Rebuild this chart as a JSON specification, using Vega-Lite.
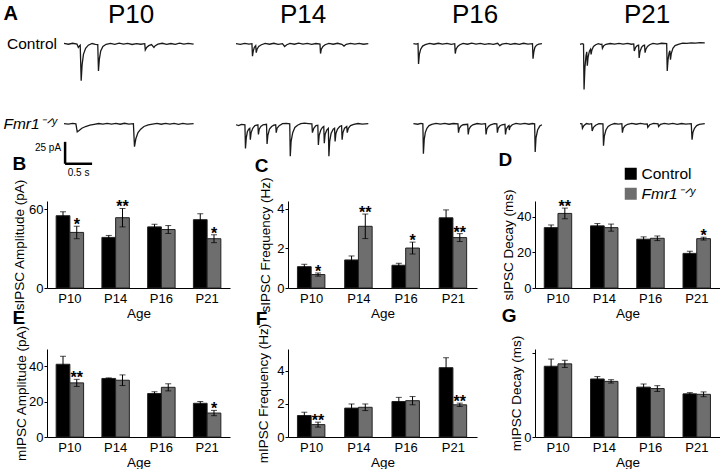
{
"$schema":"https://vega.github.io/schema/vega-lite/v6.json",
"padding":{"left":3,"top":2,"right":0,"bottom":0},
"background":"white",
"config":{
 "font":"Liberation Sans",
 "view":{"stroke":null},
 "axis":{"domainColor":"#000","tickColor":"#000","labelColor":"#000","titleColor":"#000","labelFontSize":13,"titleFontSize":13.5,"titleFontWeight":"normal","grid":false,"labelFont":"Liberation Sans","titleFont":"Liberation Sans"},
 "axisY":{"tickSize":3,"labelPadding":1,"labelOverlap":false},
 "title":{"anchor":"start","frame":"bounds","fontSize":19,"fontWeight":"bold","font":"Liberation Sans","baseline":"alphabetic","color":"#000"}
},
"datasets":{
"tr":[
{"age":"P10","genotype":"Control","t":0,"pA":0.5},{"age":"P10","genotype":"Control","t":0.08,"pA":-0.4},{"age":"P10","genotype":"Control","t":0.16,"pA":0.7},{"age":"P10","genotype":"Control","t":0.24,"pA":-0.2},{"age":"P10","genotype":"Control","t":0.265,"pA":-4},{"age":"P10","genotype":"Control","t":0.29,"pA":-2},{"age":"P10","genotype":"Control","t":0.30,"pA":-1.5},{"age":"P10","genotype":"Control","t":0.318,"pA":-42},{"age":"P10","genotype":"Control","t":0.335,"pA":-24},{"age":"P10","genotype":"Control","t":0.36,"pA":-12},{"age":"P10","genotype":"Control","t":0.40,"pA":-5},{"age":"P10","genotype":"Control","t":0.45,"pA":-1.5},{"age":"P10","genotype":"Control","t":0.52,"pA":0.4},{"age":"P10","genotype":"Control","t":0.58,"pA":-0.6},{"age":"P10","genotype":"Control","t":0.625,"pA":-0.8},{"age":"P10","genotype":"Control","t":0.638,"pA":-31},{"age":"P10","genotype":"Control","t":0.655,"pA":-17},{"age":"P10","genotype":"Control","t":0.68,"pA":-8},{"age":"P10","genotype":"Control","t":0.72,"pA":-3},{"age":"P10","genotype":"Control","t":0.78,"pA":-0.5},{"age":"P10","genotype":"Control","t":0.86,"pA":0.6},{"age":"P10","genotype":"Control","t":0.94,"pA":-0.5},{"age":"P10","genotype":"Control","t":1.02,"pA":0.8},{"age":"P10","genotype":"Control","t":1.10,"pA":-0.3},{"age":"P10","genotype":"Control","t":1.18,"pA":0.5},{"age":"P10","genotype":"Control","t":1.26,"pA":-0.7},{"age":"P10","genotype":"Control","t":1.34,"pA":0.3},{"age":"P10","genotype":"Control","t":1.42,"pA":-0.4},{"age":"P10","genotype":"Control","t":1.495,"pA":0.2},{"age":"P10","genotype":"Control","t":1.505,"pA":-7},{"age":"P10","genotype":"Control","t":1.53,"pA":-4},{"age":"P10","genotype":"Control","t":1.57,"pA":-2},{"age":"P10","genotype":"Control","t":1.62,"pA":-0.8},{"age":"P10","genotype":"Control","t":1.665,"pA":-4},{"age":"P10","genotype":"Control","t":1.69,"pA":-2},{"age":"P10","genotype":"Control","t":1.74,"pA":-0.3},{"age":"P10","genotype":"Control","t":1.82,"pA":0.7},{"age":"P10","genotype":"Control","t":1.90,"pA":-0.5},{"age":"P10","genotype":"Control","t":1.98,"pA":0.4},{"age":"P10","genotype":"Control","t":2.06,"pA":-0.6},{"age":"P10","genotype":"Control","t":2.14,"pA":0.8},{"age":"P10","genotype":"Control","t":2.22,"pA":-0.2},{"age":"P10","genotype":"Control","t":2.30,"pA":0.5},{"age":"P10","genotype":"Control","t":2.40,"pA":-0.3},

{"age":"P14","genotype":"Control","t":0,"pA":0.3},{"age":"P14","genotype":"Control","t":0.08,"pA":-0.5},{"age":"P14","genotype":"Control","t":0.16,"pA":0.6},{"age":"P14","genotype":"Control","t":0.24,"pA":-0.3},{"age":"P14","genotype":"Control","t":0.295,"pA":0.2},{"age":"P14","genotype":"Control","t":0.305,"pA":-14},{"age":"P14","genotype":"Control","t":0.32,"pA":-8},{"age":"P14","genotype":"Control","t":0.34,"pA":-4},{"age":"P14","genotype":"Control","t":0.365,"pA":-2},{"age":"P14","genotype":"Control","t":0.375,"pA":-10},{"age":"P14","genotype":"Control","t":0.39,"pA":-6},{"age":"P14","genotype":"Control","t":0.42,"pA":-3},{"age":"P14","genotype":"Control","t":0.47,"pA":-1},{"age":"P14","genotype":"Control","t":0.54,"pA":0.5},{"age":"P14","genotype":"Control","t":0.62,"pA":-0.4},{"age":"P14","genotype":"Control","t":0.70,"pA":0.7},{"age":"P14","genotype":"Control","t":0.78,"pA":-0.5},{"age":"P14","genotype":"Control","t":0.86,"pA":0.3},{"age":"P14","genotype":"Control","t":0.90,"pA":-3},{"age":"P14","genotype":"Control","t":0.94,"pA":-1},{"age":"P14","genotype":"Control","t":1.0,"pA":0.6},{"age":"P14","genotype":"Control","t":1.08,"pA":-0.4},{"age":"P14","genotype":"Control","t":1.16,"pA":0.8},{"age":"P14","genotype":"Control","t":1.24,"pA":-0.3},{"age":"P14","genotype":"Control","t":1.32,"pA":0.5},{"age":"P14","genotype":"Control","t":1.40,"pA":-0.6},{"age":"P14","genotype":"Control","t":1.48,"pA":0.4},{"age":"P14","genotype":"Control","t":1.555,"pA":-0.2},{"age":"P14","genotype":"Control","t":1.565,"pA":-11},{"age":"P14","genotype":"Control","t":1.58,"pA":-6},{"age":"P14","genotype":"Control","t":1.61,"pA":-3},{"age":"P14","genotype":"Control","t":1.65,"pA":-1},{"age":"P14","genotype":"Control","t":1.72,"pA":0.5},{"age":"P14","genotype":"Control","t":1.80,"pA":-0.4},{"age":"P14","genotype":"Control","t":1.88,"pA":0.7},{"age":"P14","genotype":"Control","t":1.96,"pA":-0.5},{"age":"P14","genotype":"Control","t":2.0,"pA":-2.5},{"age":"P14","genotype":"Control","t":2.04,"pA":-0.5},{"age":"P14","genotype":"Control","t":2.12,"pA":0.6},{"age":"P14","genotype":"Control","t":2.20,"pA":-0.3},{"age":"P14","genotype":"Control","t":2.28,"pA":0.5},{"age":"P14","genotype":"Control","t":2.36,"pA":-0.4},{"age":"P14","genotype":"Control","t":2.45,"pA":0.3},

{"age":"P16","genotype":"Control","t":0.10,"pA":0.4},{"age":"P16","genotype":"Control","t":0.15,"pA":-0.3},{"age":"P16","genotype":"Control","t":0.185,"pA":0.3},{"age":"P16","genotype":"Control","t":0.195,"pA":-23},{"age":"P16","genotype":"Control","t":0.21,"pA":-12},{"age":"P16","genotype":"Control","t":0.235,"pA":-6},{"age":"P16","genotype":"Control","t":0.27,"pA":-2.5},{"age":"P16","genotype":"Control","t":0.32,"pA":-0.8},{"age":"P16","genotype":"Control","t":0.40,"pA":0.5},{"age":"P16","genotype":"Control","t":0.48,"pA":-0.4},{"age":"P16","genotype":"Control","t":0.56,"pA":0.7},{"age":"P16","genotype":"Control","t":0.64,"pA":-0.3},{"age":"P16","genotype":"Control","t":0.72,"pA":0.5},{"age":"P16","genotype":"Control","t":0.80,"pA":-0.5},{"age":"P16","genotype":"Control","t":0.865,"pA":0.2},{"age":"P16","genotype":"Control","t":0.875,"pA":-11},{"age":"P16","genotype":"Control","t":0.89,"pA":-6},{"age":"P16","genotype":"Control","t":0.92,"pA":-3},{"age":"P16","genotype":"Control","t":0.96,"pA":-1},{"age":"P16","genotype":"Control","t":1.02,"pA":0.6},{"age":"P16","genotype":"Control","t":1.10,"pA":-0.4},{"age":"P16","genotype":"Control","t":1.18,"pA":0.8},{"age":"P16","genotype":"Control","t":1.26,"pA":-0.2},{"age":"P16","genotype":"Control","t":1.34,"pA":0.5},{"age":"P16","genotype":"Control","t":1.42,"pA":-0.6},{"age":"P16","genotype":"Control","t":1.50,"pA":0.3},{"age":"P16","genotype":"Control","t":1.58,"pA":-0.5},{"age":"P16","genotype":"Control","t":1.66,"pA":0.7},{"age":"P16","genotype":"Control","t":1.70,"pA":-2},{"age":"P16","genotype":"Control","t":1.74,"pA":-0.3},{"age":"P16","genotype":"Control","t":1.82,"pA":0.6},{"age":"P16","genotype":"Control","t":1.90,"pA":-0.5},{"age":"P16","genotype":"Control","t":1.98,"pA":0.4},{"age":"P16","genotype":"Control","t":2.06,"pA":-0.6},{"age":"P16","genotype":"Control","t":2.14,"pA":0.7},{"age":"P16","genotype":"Control","t":2.22,"pA":-0.3},{"age":"P16","genotype":"Control","t":2.305,"pA":0.2},{"age":"P16","genotype":"Control","t":2.315,"pA":-17},{"age":"P16","genotype":"Control","t":2.33,"pA":-9},{"age":"P16","genotype":"Control","t":2.35,"pA":-4},{"age":"P16","genotype":"Control","t":2.38,"pA":-1.5},{"age":"P16","genotype":"Control","t":2.42,"pA":-0.3},{"age":"P16","genotype":"Control","t":2.48,"pA":0.3},

{"age":"P21","genotype":"Control","t":0,"pA":-0.5},{"age":"P21","genotype":"Control","t":0.04,"pA":0.2},{"age":"P21","genotype":"Control","t":0.065,"pA":-0.3},{"age":"P21","genotype":"Control","t":0.075,"pA":-52},{"age":"P21","genotype":"Control","t":0.09,"pA":-28},{"age":"P21","genotype":"Control","t":0.11,"pA":-14},{"age":"P21","genotype":"Control","t":0.125,"pA":-9},{"age":"P21","genotype":"Control","t":0.135,"pA":-25},{"age":"P21","genotype":"Control","t":0.15,"pA":-15},{"age":"P21","genotype":"Control","t":0.175,"pA":-8},{"age":"P21","genotype":"Control","t":0.195,"pA":-6},{"age":"P21","genotype":"Control","t":0.205,"pA":-12},{"age":"P21","genotype":"Control","t":0.22,"pA":-7},{"age":"P21","genotype":"Control","t":0.25,"pA":-3},{"age":"P21","genotype":"Control","t":0.29,"pA":-1},{"age":"P21","genotype":"Control","t":0.34,"pA":0.2},{"age":"P21","genotype":"Control","t":0.38,"pA":-0.5},{"age":"P21","genotype":"Control","t":0.405,"pA":-0.3},{"age":"P21","genotype":"Control","t":0.415,"pA":-5},{"age":"P21","genotype":"Control","t":0.44,"pA":-2},{"age":"P21","genotype":"Control","t":0.48,"pA":-0.5},{"age":"P21","genotype":"Control","t":0.56,"pA":0.4},{"age":"P21","genotype":"Control","t":0.64,"pA":-0.3},{"age":"P21","genotype":"Control","t":0.72,"pA":0.6},{"age":"P21","genotype":"Control","t":0.80,"pA":-0.2},{"age":"P21","genotype":"Control","t":0.88,"pA":0.5},{"age":"P21","genotype":"Control","t":0.95,"pA":-0.4},{"age":"P21","genotype":"Control","t":0.995,"pA":0},{"age":"P21","genotype":"Control","t":1.005,"pA":-8},{"age":"P21","genotype":"Control","t":1.03,"pA":-4},{"age":"P21","genotype":"Control","t":1.06,"pA":-2},{"age":"P21","genotype":"Control","t":1.085,"pA":-1.5},{"age":"P21","genotype":"Control","t":1.095,"pA":-16},{"age":"P21","genotype":"Control","t":1.11,"pA":-9},{"age":"P21","genotype":"Control","t":1.14,"pA":-4},{"age":"P21","genotype":"Control","t":1.17,"pA":-2},{"age":"P21","genotype":"Control","t":1.195,"pA":-1.5},{"age":"P21","genotype":"Control","t":1.205,"pA":-10},{"age":"P21","genotype":"Control","t":1.22,"pA":-6},{"age":"P21","genotype":"Control","t":1.25,"pA":-3},{"age":"P21","genotype":"Control","t":1.29,"pA":-1},{"age":"P21","genotype":"Control","t":1.35,"pA":0.5},{"age":"P21","genotype":"Control","t":1.43,"pA":-0.3},{"age":"P21","genotype":"Control","t":1.51,"pA":0.7},{"age":"P21","genotype":"Control","t":1.605,"pA":0.3},{"age":"P21","genotype":"Control","t":1.615,"pA":-31},{"age":"P21","genotype":"Control","t":1.63,"pA":-18},{"age":"P21","genotype":"Control","t":1.65,"pA":-10},{"age":"P21","genotype":"Control","t":1.665,"pA":-8},{"age":"P21","genotype":"Control","t":1.675,"pA":-18},{"age":"P21","genotype":"Control","t":1.69,"pA":-11},{"age":"P21","genotype":"Control","t":1.72,"pA":-5},{"age":"P21","genotype":"Control","t":1.76,"pA":-2},{"age":"P21","genotype":"Control","t":1.82,"pA":-0.5},{"age":"P21","genotype":"Control","t":1.90,"pA":0.8},{"age":"P21","genotype":"Control","t":1.98,"pA":0.5},{"age":"P21","genotype":"Control","t":2.06,"pA":1.2},{"age":"P21","genotype":"Control","t":2.14,"pA":0.8},{"age":"P21","genotype":"Control","t":2.22,"pA":1.4},{"age":"P21","genotype":"Control","t":2.31,"pA":1.1},

{"age":"P10","genotype":"Fmr1","t":0,"pA":0.4},{"age":"P10","genotype":"Fmr1","t":0.08,"pA":-0.3},{"age":"P10","genotype":"Fmr1","t":0.16,"pA":0.5},{"age":"P10","genotype":"Fmr1","t":0.22,"pA":0},{"age":"P10","genotype":"Fmr1","t":0.245,"pA":-9},{"age":"P10","genotype":"Fmr1","t":0.28,"pA":-7.5},{"age":"P10","genotype":"Fmr1","t":0.33,"pA":-5},{"age":"P10","genotype":"Fmr1","t":0.40,"pA":-3},{"age":"P10","genotype":"Fmr1","t":0.48,"pA":-1.5},{"age":"P10","genotype":"Fmr1","t":0.56,"pA":-0.5},{"age":"P10","genotype":"Fmr1","t":0.64,"pA":0.4},{"age":"P10","genotype":"Fmr1","t":0.72,"pA":-0.3},{"age":"P10","genotype":"Fmr1","t":0.80,"pA":0.6},{"age":"P10","genotype":"Fmr1","t":0.88,"pA":-0.2},{"age":"P10","genotype":"Fmr1","t":0.96,"pA":0.5},{"age":"P10","genotype":"Fmr1","t":1.04,"pA":-0.4},{"age":"P10","genotype":"Fmr1","t":1.12,"pA":0.7},{"age":"P10","genotype":"Fmr1","t":1.20,"pA":-0.3},{"age":"P10","genotype":"Fmr1","t":1.285,"pA":0.2},{"age":"P10","genotype":"Fmr1","t":1.305,"pA":-26},{"age":"P10","genotype":"Fmr1","t":1.33,"pA":-17},{"age":"P10","genotype":"Fmr1","t":1.37,"pA":-10},{"age":"P10","genotype":"Fmr1","t":1.42,"pA":-6},{"age":"P10","genotype":"Fmr1","t":1.48,"pA":-3},{"age":"P10","genotype":"Fmr1","t":1.56,"pA":-1.2},{"age":"P10","genotype":"Fmr1","t":1.64,"pA":-0.2},{"age":"P10","genotype":"Fmr1","t":1.72,"pA":0.5},{"age":"P10","genotype":"Fmr1","t":1.80,"pA":-0.4},{"age":"P10","genotype":"Fmr1","t":1.88,"pA":0.6},{"age":"P10","genotype":"Fmr1","t":1.96,"pA":-0.3},{"age":"P10","genotype":"Fmr1","t":2.04,"pA":0.5},{"age":"P10","genotype":"Fmr1","t":2.12,"pA":-0.5},{"age":"P10","genotype":"Fmr1","t":2.20,"pA":0.6},{"age":"P10","genotype":"Fmr1","t":2.28,"pA":-0.2},{"age":"P10","genotype":"Fmr1","t":2.40,"pA":0.3},

{"age":"P14","genotype":"Fmr1","t":0,"pA":-1},{"age":"P14","genotype":"Fmr1","t":0.05,"pA":-2},{"age":"P14","genotype":"Fmr1","t":0.10,"pA":-0.5},{"age":"P14","genotype":"Fmr1","t":0.165,"pA":-1},{"age":"P14","genotype":"Fmr1","t":0.175,"pA":-28},{"age":"P14","genotype":"Fmr1","t":0.19,"pA":-16},{"age":"P14","genotype":"Fmr1","t":0.21,"pA":-9},{"age":"P14","genotype":"Fmr1","t":0.235,"pA":-6},{"age":"P14","genotype":"Fmr1","t":0.255,"pA":-5},{"age":"P14","genotype":"Fmr1","t":0.265,"pA":-18},{"age":"P14","genotype":"Fmr1","t":0.28,"pA":-10},{"age":"P14","genotype":"Fmr1","t":0.31,"pA":-5},{"age":"P14","genotype":"Fmr1","t":0.35,"pA":-2},{"age":"P14","genotype":"Fmr1","t":0.405,"pA":-1},{"age":"P14","genotype":"Fmr1","t":0.415,"pA":-12},{"age":"P14","genotype":"Fmr1","t":0.43,"pA":-6},{"age":"P14","genotype":"Fmr1","t":0.46,"pA":-3},{"age":"P14","genotype":"Fmr1","t":0.50,"pA":-1},{"age":"P14","genotype":"Fmr1","t":0.565,"pA":-0.5},{"age":"P14","genotype":"Fmr1","t":0.575,"pA":-23},{"age":"P14","genotype":"Fmr1","t":0.59,"pA":-13},{"age":"P14","genotype":"Fmr1","t":0.62,"pA":-6},{"age":"P14","genotype":"Fmr1","t":0.66,"pA":-3},{"age":"P14","genotype":"Fmr1","t":0.70,"pA":-1.5},{"age":"P14","genotype":"Fmr1","t":0.735,"pA":-1},{"age":"P14","genotype":"Fmr1","t":0.745,"pA":-10},{"age":"P14","genotype":"Fmr1","t":0.76,"pA":-5},{"age":"P14","genotype":"Fmr1","t":0.80,"pA":-2},{"age":"P14","genotype":"Fmr1","t":0.86,"pA":0.3},{"age":"P14","genotype":"Fmr1","t":0.93,"pA":0.5},{"age":"P14","genotype":"Fmr1","t":0.995,"pA":0},{"age":"P14","genotype":"Fmr1","t":1.005,"pA":-37},{"age":"P14","genotype":"Fmr1","t":1.02,"pA":-20},{"age":"P14","genotype":"Fmr1","t":1.05,"pA":-10},{"age":"P14","genotype":"Fmr1","t":1.09,"pA":-4},{"age":"P14","genotype":"Fmr1","t":1.14,"pA":-1.5},{"age":"P14","genotype":"Fmr1","t":1.20,"pA":0.2},{"age":"P14","genotype":"Fmr1","t":1.27,"pA":0.8},{"age":"P14","genotype":"Fmr1","t":1.34,"pA":0.4},{"age":"P14","genotype":"Fmr1","t":1.405,"pA":0},{"age":"P14","genotype":"Fmr1","t":1.415,"pA":-10},{"age":"P14","genotype":"Fmr1","t":1.44,"pA":-5},{"age":"P14","genotype":"Fmr1","t":1.48,"pA":-2},{"age":"P14","genotype":"Fmr1","t":1.515,"pA":-1.5},{"age":"P14","genotype":"Fmr1","t":1.525,"pA":-24},{"age":"P14","genotype":"Fmr1","t":1.54,"pA":-13},{"age":"P14","genotype":"Fmr1","t":1.57,"pA":-7},{"age":"P14","genotype":"Fmr1","t":1.60,"pA":-4},{"age":"P14","genotype":"Fmr1","t":1.625,"pA":-3},{"age":"P14","genotype":"Fmr1","t":1.635,"pA":-22},{"age":"P14","genotype":"Fmr1","t":1.65,"pA":-12},{"age":"P14","genotype":"Fmr1","t":1.68,"pA":-7},{"age":"P14","genotype":"Fmr1","t":1.71,"pA":-5},{"age":"P14","genotype":"Fmr1","t":1.72,"pA":-37},{"age":"P14","genotype":"Fmr1","t":1.735,"pA":-20},{"age":"P14","genotype":"Fmr1","t":1.76,"pA":-11},{"age":"P14","genotype":"Fmr1","t":1.80,"pA":-6},{"age":"P14","genotype":"Fmr1","t":1.825,"pA":-5},{"age":"P14","genotype":"Fmr1","t":1.835,"pA":-20},{"age":"P14","genotype":"Fmr1","t":1.85,"pA":-11},{"age":"P14","genotype":"Fmr1","t":1.88,"pA":-6},{"age":"P14","genotype":"Fmr1","t":1.92,"pA":-3},{"age":"P14","genotype":"Fmr1","t":1.955,"pA":-2},{"age":"P14","genotype":"Fmr1","t":1.965,"pA":-18},{"age":"P14","genotype":"Fmr1","t":1.98,"pA":-10},{"age":"P14","genotype":"Fmr1","t":2.01,"pA":-5},{"age":"P14","genotype":"Fmr1","t":2.05,"pA":-3},{"age":"P14","genotype":"Fmr1","t":2.06,"pA":-10},{"age":"P14","genotype":"Fmr1","t":2.08,"pA":-5},{"age":"P14","genotype":"Fmr1","t":2.12,"pA":-2},{"age":"P14","genotype":"Fmr1","t":2.18,"pA":-0.5},{"age":"P14","genotype":"Fmr1","t":2.26,"pA":0.4},{"age":"P14","genotype":"Fmr1","t":2.34,"pA":-0.3},{"age":"P14","genotype":"Fmr1","t":2.45,"pA":0.3},

{"age":"P16","genotype":"Fmr1","t":0.10,"pA":0.3},{"age":"P16","genotype":"Fmr1","t":0.18,"pA":-0.4},{"age":"P16","genotype":"Fmr1","t":0.24,"pA":0.5},{"age":"P16","genotype":"Fmr1","t":0.275,"pA":0},{"age":"P16","genotype":"Fmr1","t":0.285,"pA":-34},{"age":"P16","genotype":"Fmr1","t":0.30,"pA":-18},{"age":"P16","genotype":"Fmr1","t":0.32,"pA":-10},{"age":"P16","genotype":"Fmr1","t":0.35,"pA":-5},{"age":"P16","genotype":"Fmr1","t":0.39,"pA":-2},{"age":"P16","genotype":"Fmr1","t":0.44,"pA":-0.5},{"age":"P16","genotype":"Fmr1","t":0.52,"pA":0.5},{"age":"P16","genotype":"Fmr1","t":0.60,"pA":-0.3},{"age":"P16","genotype":"Fmr1","t":0.68,"pA":0.6},{"age":"P16","genotype":"Fmr1","t":0.76,"pA":-0.4},{"age":"P16","genotype":"Fmr1","t":0.84,"pA":0.4},{"age":"P16","genotype":"Fmr1","t":0.925,"pA":0},{"age":"P16","genotype":"Fmr1","t":0.935,"pA":-10},{"age":"P16","genotype":"Fmr1","t":0.95,"pA":-5},{"age":"P16","genotype":"Fmr1","t":0.98,"pA":-2.5},{"age":"P16","genotype":"Fmr1","t":1.02,"pA":-1},{"age":"P16","genotype":"Fmr1","t":1.105,"pA":-0.5},{"age":"P16","genotype":"Fmr1","t":1.115,"pA":-12},{"age":"P16","genotype":"Fmr1","t":1.13,"pA":-6},{"age":"P16","genotype":"Fmr1","t":1.16,"pA":-3},{"age":"P16","genotype":"Fmr1","t":1.20,"pA":-1},{"age":"P16","genotype":"Fmr1","t":1.28,"pA":0.4},{"age":"P16","genotype":"Fmr1","t":1.36,"pA":-0.3},{"age":"P16","genotype":"Fmr1","t":1.435,"pA":0.2},{"age":"P16","genotype":"Fmr1","t":1.445,"pA":-12},{"age":"P16","genotype":"Fmr1","t":1.46,"pA":-6},{"age":"P16","genotype":"Fmr1","t":1.49,"pA":-3},{"age":"P16","genotype":"Fmr1","t":1.53,"pA":-1},{"age":"P16","genotype":"Fmr1","t":1.60,"pA":0.3},{"age":"P16","genotype":"Fmr1","t":1.645,"pA":0},{"age":"P16","genotype":"Fmr1","t":1.655,"pA":-10},{"age":"P16","genotype":"Fmr1","t":1.67,"pA":-5},{"age":"P16","genotype":"Fmr1","t":1.70,"pA":-2.5},{"age":"P16","genotype":"Fmr1","t":1.74,"pA":-1},{"age":"P16","genotype":"Fmr1","t":1.795,"pA":-0.5},{"age":"P16","genotype":"Fmr1","t":1.805,"pA":-12},{"age":"P16","genotype":"Fmr1","t":1.82,"pA":-6},{"age":"P16","genotype":"Fmr1","t":1.85,"pA":-3},{"age":"P16","genotype":"Fmr1","t":1.87,"pA":-2},{"age":"P16","genotype":"Fmr1","t":1.875,"pA":-7},{"age":"P16","genotype":"Fmr1","t":1.89,"pA":-3.5},{"age":"P16","genotype":"Fmr1","t":1.93,"pA":-1},{"age":"P16","genotype":"Fmr1","t":2.00,"pA":0.5},{"age":"P16","genotype":"Fmr1","t":2.08,"pA":-0.3},{"age":"P16","genotype":"Fmr1","t":2.16,"pA":0.6},{"age":"P16","genotype":"Fmr1","t":2.24,"pA":-0.4},{"age":"P16","genotype":"Fmr1","t":2.30,"pA":0.4},{"age":"P16","genotype":"Fmr1","t":2.345,"pA":0},{"age":"P16","genotype":"Fmr1","t":2.355,"pA":-32},{"age":"P16","genotype":"Fmr1","t":2.37,"pA":-16},{"age":"P16","genotype":"Fmr1","t":2.40,"pA":-7},{"age":"P16","genotype":"Fmr1","t":2.44,"pA":-2.5},{"age":"P16","genotype":"Fmr1","t":2.48,"pA":-1},

{"age":"P21","genotype":"Fmr1","t":0,"pA":0.3},{"age":"P21","genotype":"Fmr1","t":0.035,"pA":0},{"age":"P21","genotype":"Fmr1","t":0.045,"pA":-5},{"age":"P21","genotype":"Fmr1","t":0.07,"pA":-2},{"age":"P21","genotype":"Fmr1","t":0.12,"pA":0.4},{"age":"P21","genotype":"Fmr1","t":0.17,"pA":-0.3},{"age":"P21","genotype":"Fmr1","t":0.215,"pA":0.2},{"age":"P21","genotype":"Fmr1","t":0.225,"pA":-8},{"age":"P21","genotype":"Fmr1","t":0.25,"pA":-4},{"age":"P21","genotype":"Fmr1","t":0.29,"pA":-1.5},{"age":"P21","genotype":"Fmr1","t":0.35,"pA":0.3},{"age":"P21","genotype":"Fmr1","t":0.425,"pA":0},{"age":"P21","genotype":"Fmr1","t":0.435,"pA":-25},{"age":"P21","genotype":"Fmr1","t":0.45,"pA":-14},{"age":"P21","genotype":"Fmr1","t":0.48,"pA":-7},{"age":"P21","genotype":"Fmr1","t":0.52,"pA":-3},{"age":"P21","genotype":"Fmr1","t":0.57,"pA":-1},{"age":"P21","genotype":"Fmr1","t":0.64,"pA":0.4},{"age":"P21","genotype":"Fmr1","t":0.71,"pA":-0.3},{"age":"P21","genotype":"Fmr1","t":0.775,"pA":0.2},{"age":"P21","genotype":"Fmr1","t":0.785,"pA":-10},{"age":"P21","genotype":"Fmr1","t":0.80,"pA":-5},{"age":"P21","genotype":"Fmr1","t":0.83,"pA":-2.5},{"age":"P21","genotype":"Fmr1","t":0.88,"pA":-0.5},{"age":"P21","genotype":"Fmr1","t":0.96,"pA":0.6},{"age":"P21","genotype":"Fmr1","t":1.04,"pA":-0.4},{"age":"P21","genotype":"Fmr1","t":1.12,"pA":0.5},{"age":"P21","genotype":"Fmr1","t":1.20,"pA":-0.3},{"age":"P21","genotype":"Fmr1","t":1.245,"pA":0},{"age":"P21","genotype":"Fmr1","t":1.255,"pA":-4},{"age":"P21","genotype":"Fmr1","t":1.29,"pA":-1},{"age":"P21","genotype":"Fmr1","t":1.36,"pA":0.5},{"age":"P21","genotype":"Fmr1","t":1.445,"pA":0},{"age":"P21","genotype":"Fmr1","t":1.455,"pA":-3},{"age":"P21","genotype":"Fmr1","t":1.49,"pA":-0.5},{"age":"P21","genotype":"Fmr1","t":1.56,"pA":0.6},{"age":"P21","genotype":"Fmr1","t":1.64,"pA":-0.3},{"age":"P21","genotype":"Fmr1","t":1.72,"pA":0.5},{"age":"P21","genotype":"Fmr1","t":1.80,"pA":-0.5},{"age":"P21","genotype":"Fmr1","t":1.88,"pA":0.4},{"age":"P21","genotype":"Fmr1","t":1.96,"pA":-0.2},{"age":"P21","genotype":"Fmr1","t":2.06,"pA":0.3},{"age":"P21","genotype":"Fmr1","t":2.075,"pA":-18},{"age":"P21","genotype":"Fmr1","t":2.09,"pA":-10},{"age":"P21","genotype":"Fmr1","t":2.12,"pA":-5},{"age":"P21","genotype":"Fmr1","t":2.16,"pA":-2},{"age":"P21","genotype":"Fmr1","t":2.21,"pA":-0.5},{"age":"P21","genotype":"Fmr1","t":2.31,"pA":0.4},

{"age":"P10","genotype":"Fmr1","kind":"bar","t":0.02,"pA":-20.5,"t2":0.02,"pA2":-45.5},
{"age":"P10","genotype":"Fmr1","kind":"bar","t":0.02,"pA":-45.5,"t2":0.52,"pA2":-45.5},
{"age":"P10","genotype":"Fmr1","kind":"ylabel","t":0.02,"pA":-27,"label":"25 pA"},
{"age":"P10","genotype":"Fmr1","kind":"xlabel","t":0.27,"pA":-45.5,"label":"0.5 s"},
{"age":"P10","genotype":"Control","kind":"rowlabel","t":0,"pA":0,"label":"Control"},
{"age":"P10","genotype":"Fmr1","kind":"rowlabel","t":0,"pA":0,"label":"Fmr1⁻ᐟʸ"}
],
"bars":[
{"panel":"B","age":"P10","genotype":"Control","mean":55,"lo":52,"hi":58,"sig":""},
{"panel":"B","age":"P10","genotype":"Fmr1","mean":42.3,"lo":37.5,"hi":47,"sig":"*"},
{"panel":"B","age":"P14","genotype":"Control","mean":38.5,"lo":37,"hi":40,"sig":""},
{"panel":"B","age":"P14","genotype":"Fmr1","mean":53.5,"lo":46.5,"hi":60.5,"sig":"**"},
{"panel":"B","age":"P16","genotype":"Control","mean":46.5,"lo":44.5,"hi":48.5,"sig":""},
{"panel":"B","age":"P16","genotype":"Fmr1","mean":44.5,"lo":41.5,"hi":47.5,"sig":""},
{"panel":"B","age":"P21","genotype":"Control","mean":52,"lo":47.5,"hi":56.5,"sig":""},
{"panel":"B","age":"P21","genotype":"Fmr1","mean":37.5,"lo":34.5,"hi":40.5,"sig":"*"},
{"panel":"C","age":"P10","genotype":"Control","mean":1.08,"lo":0.96,"hi":1.2,"sig":""},
{"panel":"C","age":"P10","genotype":"Fmr1","mean":0.68,"lo":0.6,"hi":0.76,"sig":"*"},
{"panel":"C","age":"P14","genotype":"Control","mean":1.42,"lo":1.22,"hi":1.62,"sig":""},
{"panel":"C","age":"P14","genotype":"Fmr1","mean":3.12,"lo":2.5,"hi":3.74,"sig":"**"},
{"panel":"C","age":"P16","genotype":"Control","mean":1.15,"lo":1.05,"hi":1.25,"sig":""},
{"panel":"C","age":"P16","genotype":"Fmr1","mean":2.02,"lo":1.72,"hi":2.32,"sig":"*"},
{"panel":"C","age":"P21","genotype":"Control","mean":3.55,"lo":3.15,"hi":3.95,"sig":""},
{"panel":"C","age":"P21","genotype":"Fmr1","mean":2.55,"lo":2.35,"hi":2.75,"sig":"**"},
{"panel":"D","age":"P10","genotype":"Control","mean":34,"lo":32.5,"hi":35.5,"sig":""},
{"panel":"D","age":"P10","genotype":"Fmr1","mean":42,"lo":39,"hi":45,"sig":"**"},
{"panel":"D","age":"P14","genotype":"Control","mean":35,"lo":33.7,"hi":36.3,"sig":""},
{"panel":"D","age":"P14","genotype":"Fmr1","mean":34,"lo":32,"hi":36,"sig":""},
{"panel":"D","age":"P16","genotype":"Control","mean":27.5,"lo":26.2,"hi":28.8,"sig":""},
{"panel":"D","age":"P16","genotype":"Fmr1","mean":28,"lo":26.7,"hi":29.3,"sig":""},
{"panel":"D","age":"P21","genotype":"Control","mean":19.5,"lo":18.3,"hi":20.7,"sig":""},
{"panel":"D","age":"P21","genotype":"Fmr1","mean":27.8,"lo":27,"hi":28.6,"sig":"*"},
{"panel":"E","age":"P10","genotype":"Control","mean":41,"lo":36.5,"hi":45.5,"sig":""},
{"panel":"E","age":"P10","genotype":"Fmr1","mean":30.5,"lo":28.5,"hi":32.5,"sig":"**"},
{"panel":"E","age":"P14","genotype":"Control","mean":33,"lo":32.7,"hi":33.3,"sig":""},
{"panel":"E","age":"P14","genotype":"Fmr1","mean":32,"lo":29,"hi":35,"sig":""},
{"panel":"E","age":"P16","genotype":"Control","mean":24.5,"lo":23.5,"hi":25.5,"sig":""},
{"panel":"E","age":"P16","genotype":"Fmr1","mean":28,"lo":26,"hi":30,"sig":""},
{"panel":"E","age":"P21","genotype":"Control","mean":19,"lo":18,"hi":20,"sig":""},
{"panel":"E","age":"P21","genotype":"Fmr1","mean":13.5,"lo":12,"hi":15,"sig":"*"},
{"panel":"F","age":"P10","genotype":"Control","mean":1.3,"lo":1.1,"hi":1.5,"sig":""},
{"panel":"F","age":"P10","genotype":"Fmr1","mean":0.75,"lo":0.6,"hi":0.9,"sig":"**"},
{"panel":"F","age":"P14","genotype":"Control","mean":1.75,"lo":1.5,"hi":2.0,"sig":""},
{"panel":"F","age":"P14","genotype":"Fmr1","mean":1.8,"lo":1.6,"hi":2.0,"sig":""},
{"panel":"F","age":"P16","genotype":"Control","mean":2.15,"lo":1.9,"hi":2.4,"sig":""},
{"panel":"F","age":"P16","genotype":"Fmr1","mean":2.2,"lo":1.95,"hi":2.45,"sig":""},
{"panel":"F","age":"P21","genotype":"Control","mean":4.2,"lo":3.6,"hi":4.8,"sig":""},
{"panel":"F","age":"P21","genotype":"Fmr1","mean":1.95,"lo":1.85,"hi":2.05,"sig":"**"},
{"panel":"G","age":"P10","genotype":"Control","mean":29.5,"lo":26.5,"hi":32.5,"sig":""},
{"panel":"G","age":"P10","genotype":"Fmr1","mean":30.5,"lo":29,"hi":32,"sig":""},
{"panel":"G","age":"P14","genotype":"Control","mean":24.2,"lo":23.2,"hi":25.2,"sig":""},
{"panel":"G","age":"P14","genotype":"Fmr1","mean":23.2,"lo":22.5,"hi":23.9,"sig":""},
{"panel":"G","age":"P16","genotype":"Control","mean":20.8,"lo":19.5,"hi":22.1,"sig":""},
{"panel":"G","age":"P16","genotype":"Fmr1","mean":20.2,"lo":19,"hi":21.4,"sig":""},
{"panel":"G","age":"P21","genotype":"Control","mean":18,"lo":17.5,"hi":18.5,"sig":""},
{"panel":"G","age":"P21","genotype":"Fmr1","mean":17.8,"lo":16.8,"hi":18.8,"sig":""}
]
},
"vconcat":[
{
 "data":{"name":"tr"},
 "title":{"text":"A","fontSize":20,"offset":0,"dy":22},
 "facet":{
  "column":{"field":"age","type":"nominal","header":{"title":null,"labelFontSize":26,"labelFont":"Liberation Sans","labelColor":"#000","labelPadding":8}},
  "row":{"field":"genotype","type":"nominal","header":null}
 },
 "spacing":{"row":16,"column":4},
 "spec":{
  "width":168,"height":57,
  "layer":[
   {"transform":[{"filter":"!datum.kind"}],"mark":{"type":"line","color":"#1a1a1a","strokeWidth":1.3},
    "encoding":{"x":{"field":"t","type":"quantitative","scale":{"domain":[-0.315,2.796],"nice":false,"zero":false},"axis":null},"y":{"field":"pA","type":"quantitative","scale":{"domain":[-64,1],"nice":false},"axis":null}}},
   {"transform":[{"filter":"datum.kind == 'bar'"}],"mark":{"type":"rule","color":"#000","strokeWidth":2.5},
    "encoding":{"x":{"field":"t","type":"quantitative"},"x2":{"field":"t2"},"y":{"field":"pA","type":"quantitative"},"y2":{"field":"pA2"}}},
   {"transform":[{"filter":"datum.kind == 'ylabel'"}],"mark":{"type":"text","align":"right","baseline":"middle","dx":-4,"fontSize":10,"color":"#000"},
    "encoding":{"x":{"field":"t","type":"quantitative"},"y":{"field":"pA","type":"quantitative"},"text":{"field":"label"}}},
   {"transform":[{"filter":"datum.kind == 'xlabel'"}],"mark":{"type":"text","align":"center","baseline":"top","dy":4,"fontSize":10,"color":"#000"},
    "encoding":{"x":{"field":"t","type":"quantitative"},"y":{"field":"pA","type":"quantitative"},"text":{"field":"label"}}},
   {"transform":[{"filter":"datum.kind == 'rowlabel' && datum.genotype == 'Control'"}],"mark":{"type":"text","align":"right","baseline":"middle","dx":-7,"fontSize":15.5,"color":"#000"},
    "encoding":{"x":{"field":"t","type":"quantitative"},"y":{"field":"pA","type":"quantitative"},"text":{"field":"label"}}},
   {"transform":[{"filter":"datum.kind == 'rowlabel' && datum.genotype == 'Fmr1'"}],"mark":{"type":"text","align":"right","baseline":"middle","dx":-7,"fontSize":15.5,"fontStyle":"italic","color":"#000"},
    "encoding":{"x":{"field":"t","type":"quantitative"},"y":{"field":"pA","type":"quantitative"},"text":{"field":"label"}}}
  ]
 }
},
{
 "columns":3,
 "spacing":{"row":61,"column":58},
 "bounds":"flush",
 "resolve":{"scale":{"color":"independent"}},
 "concat":[
   {"width":183,"height":87,"title":{"text":"B","dx":0,"dy":-5,"offset":0},
    "data":{"name":"bars"},"transform":[{"filter":"datum.panel == 'B'"}],
    "encoding":{"x":{"field":"age","type":"nominal","scale":{"paddingInner":0.4,"paddingOuter":0.2},"axis":{"title":"Age","labelAngle":0,"ticks":false,"labelPadding":4,"titlePadding":1}},"xOffset":{"field":"genotype","type":"nominal","sort":["Control","Fmr1"]}},
    "layer":[
     {"mark":{"type":"bar","stroke":"#222","strokeWidth":1},"encoding":{"y":{"field":"mean","type":"quantitative","scale":{"domain":[0,66.2],"nice":false},"axis":{"title":"sIPSC Amplitude (pA)","values":[0,20,40,60],"titlePadding":2}},"color":{"field":"genotype","type":"nominal","scale":{"domain":["Control","Fmr1"],"range":["#000000","#6e6e6e"]},"legend":null}}},
     {"mark":{"type":"rule","color":"#000","strokeWidth":1},"encoding":{"y":{"field":"lo","type":"quantitative"},"y2":{"field":"hi"}}},
     {"mark":{"type":"tick","color":"#000","thickness":1,"size":6},"encoding":{"y":{"field":"hi","type":"quantitative"}}},
     {"mark":{"type":"tick","color":"#000","thickness":1,"size":6},"encoding":{"y":{"field":"lo","type":"quantitative"}}},
     {"transform":[{"filter":"datum.sig != ''"}],"mark":{"type":"text","fontSize":16,"fontWeight":"bold","baseline":"alphabetic","dy":4,"color":"#000"},"encoding":{"y":{"field":"hi","type":"quantitative"},"text":{"field":"sig"}}}
    ]},
    {"width":189,"height":87,"title":{"text":"C","dx":-4,"dy":-1,"offset":0},
     "data":{"name":"bars"},"transform":[{"filter":"datum.panel == 'C'"}],
     "encoding":{"x":{"field":"age","type":"nominal","scale":{"paddingInner":0.4,"paddingOuter":0.2},"axis":{"title":"Age","labelAngle":0,"ticks":false,"labelPadding":4,"titlePadding":1}},"xOffset":{"field":"genotype","type":"nominal","sort":["Control","Fmr1"]}},
     "layer":[
      {"mark":{"type":"bar","stroke":"#222","strokeWidth":1},"encoding":{"y":{"field":"mean","type":"quantitative","scale":{"domain":[0,4.4],"nice":false},"axis":{"title":"sIPSC Frequency (Hz)","values":[0,1,2,3,4],"labelExpr":"datum.value % 2 == 0 ? datum.label : ''","titlePadding":4}},"color":{"field":"genotype","type":"nominal","scale":{"domain":["Control","Fmr1"],"range":["#000000","#6e6e6e"]},"legend":null}}},
      {"mark":{"type":"rule","color":"#000","strokeWidth":1},"encoding":{"y":{"field":"lo","type":"quantitative"},"y2":{"field":"hi"}}},
      {"mark":{"type":"tick","color":"#000","thickness":1,"size":6},"encoding":{"y":{"field":"hi","type":"quantitative"}}},
      {"mark":{"type":"tick","color":"#000","thickness":1,"size":6},"encoding":{"y":{"field":"lo","type":"quantitative"}}},
      {"transform":[{"filter":"datum.sig != ''"}],"mark":{"type":"text","fontSize":16,"fontWeight":"bold","baseline":"alphabetic","dy":4,"color":"#000"},"encoding":{"y":{"field":"hi","type":"quantitative"},"text":{"field":"sig"}}}
     ]},
    {"width":185,"height":87,"title":{"text":"D","dx":-3,"offset":0,"dy":4},
     "data":{"name":"bars"},"transform":[{"filter":"datum.panel == 'D'"}],
     "encoding":{"x":{"field":"age","type":"nominal","scale":{"paddingInner":0.4,"paddingOuter":0.2},"axis":{"title":"Age","labelAngle":0,"ticks":false,"labelPadding":4,"titlePadding":1}},"xOffset":{"field":"genotype","type":"nominal","sort":["Control","Fmr1"]}},
     "layer":[
      {"mark":{"type":"bar","stroke":"#222","strokeWidth":1},"encoding":{"y":{"field":"mean","type":"quantitative","scale":{"domain":[0,49],"nice":false},"axis":{"title":"sIPSC Decay (ms)","values":[0,10,20,30,40],"labelExpr":"datum.value % 20 == 0 ? datum.label : ''","titlePadding":1}},"color":{"field":"genotype","type":"nominal","scale":{"domain":["Control","Fmr1"],"range":["#000000","#6e6e6e"]},"legend":{"orient":"none","legendX":88,"legendY":-35,"title":null,"symbolType":"square","symbolSize":144,"symbolStrokeWidth":0,"labelFontSize":15.5,"labelFont":"Liberation Sans","labelColor":"#000","labelOffset":3,"rowPadding":3,"labelExpr":"datum.value == 'Fmr1' ? 'Fmr1⁻ᐟʸ' : datum.label","labelFontStyle":{"expr":"datum.value == 'Control' ? 'normal' : 'italic'"}}}}},
      {"mark":{"type":"rule","color":"#000","strokeWidth":1},"encoding":{"y":{"field":"lo","type":"quantitative"},"y2":{"field":"hi"}}},
      {"mark":{"type":"tick","color":"#000","thickness":1,"size":6},"encoding":{"y":{"field":"hi","type":"quantitative"}}},
      {"mark":{"type":"tick","color":"#000","thickness":1,"size":6},"encoding":{"y":{"field":"lo","type":"quantitative"}}},
      {"transform":[{"filter":"datum.sig != ''"}],"mark":{"type":"text","fontSize":16,"fontWeight":"bold","baseline":"alphabetic","dy":4,"color":"#000"},"encoding":{"y":{"field":"hi","type":"quantitative"},"text":{"field":"sig"}}}
     ]},
   {"width":183,"height":88,"title":{"text":"E","dx":-2,"dy":3,"offset":0},
    "data":{"name":"bars"},"transform":[{"filter":"datum.panel == 'E'"}],
    "encoding":{"x":{"field":"age","type":"nominal","scale":{"paddingInner":0.4,"paddingOuter":0.2},"axis":{"title":"Age","labelAngle":0,"ticks":false,"labelPadding":4,"titlePadding":1}},"xOffset":{"field":"genotype","type":"nominal","sort":["Control","Fmr1"]}},
    "layer":[
     {"mark":{"type":"bar","stroke":"#222","strokeWidth":1},"encoding":{"y":{"field":"mean","type":"quantitative","scale":{"domain":[0,49.6],"nice":false},"axis":{"title":"mIPSC Amplitude (pA)","values":[0,10,20,30,40],"labelExpr":"datum.value % 20 == 0 ? datum.label : ''","titlePadding":0}},"color":{"field":"genotype","type":"nominal","scale":{"domain":["Control","Fmr1"],"range":["#000000","#6e6e6e"]},"legend":null}}},
     {"mark":{"type":"rule","color":"#000","strokeWidth":1},"encoding":{"y":{"field":"lo","type":"quantitative"},"y2":{"field":"hi"}}},
     {"mark":{"type":"tick","color":"#000","thickness":1,"size":6},"encoding":{"y":{"field":"hi","type":"quantitative"}}},
     {"mark":{"type":"tick","color":"#000","thickness":1,"size":6},"encoding":{"y":{"field":"lo","type":"quantitative"}}},
     {"transform":[{"filter":"datum.sig != ''"}],"mark":{"type":"text","fontSize":16,"fontWeight":"bold","baseline":"alphabetic","dy":4,"color":"#000"},"encoding":{"y":{"field":"hi","type":"quantitative"},"text":{"field":"sig"}}}
    ]},
    {"width":189,"height":88,"title":{"text":"F","dx":-1,"dy":6,"offset":0},
     "data":{"name":"bars"},"transform":[{"filter":"datum.panel == 'F'"}],
     "encoding":{"x":{"field":"age","type":"nominal","scale":{"paddingInner":0.4,"paddingOuter":0.2},"axis":{"title":"Age","labelAngle":0,"ticks":false,"labelPadding":4,"titlePadding":1}},"xOffset":{"field":"genotype","type":"nominal","sort":["Control","Fmr1"]}},
     "layer":[
      {"mark":{"type":"bar","stroke":"#222","strokeWidth":1},"encoding":{"y":{"field":"mean","type":"quantitative","scale":{"domain":[0,5.33],"nice":false},"axis":{"title":"mIPSC Frequency (Hz)","values":[0,1,2,3,4,5],"labelExpr":"datum.value % 2 == 0 ? datum.label : ''","titlePadding":6}},"color":{"field":"genotype","type":"nominal","scale":{"domain":["Control","Fmr1"],"range":["#000000","#6e6e6e"]},"legend":null}}},
      {"mark":{"type":"rule","color":"#000","strokeWidth":1},"encoding":{"y":{"field":"lo","type":"quantitative"},"y2":{"field":"hi"}}},
      {"mark":{"type":"tick","color":"#000","thickness":1,"size":6},"encoding":{"y":{"field":"hi","type":"quantitative"}}},
      {"mark":{"type":"tick","color":"#000","thickness":1,"size":6},"encoding":{"y":{"field":"lo","type":"quantitative"}}},
      {"transform":[{"filter":"datum.sig != ''"}],"mark":{"type":"text","fontSize":16,"fontWeight":"bold","baseline":"alphabetic","dy":4,"color":"#000"},"encoding":{"y":{"field":"hi","type":"quantitative"},"text":{"field":"sig"}}}
     ]},
    {"width":185,"height":88,"title":{"text":"G","dx":-8,"dy":-9,"offset":0},
     "data":{"name":"bars"},"transform":[{"filter":"datum.panel == 'G'"}],
     "encoding":{"x":{"field":"age","type":"nominal","scale":{"paddingInner":0.4,"paddingOuter":0.2},"axis":{"title":"Age","labelAngle":0,"ticks":false,"labelPadding":4,"titlePadding":1}},"xOffset":{"field":"genotype","type":"nominal","sort":["Control","Fmr1"]}},
     "layer":[
      {"mark":{"type":"bar","stroke":"#222","strokeWidth":1},"encoding":{"y":{"field":"mean","type":"quantitative","scale":{"domain":[0,36.7],"nice":false},"axis":{"title":"mIPSC Decay (ms)","values":[0,5,10,15,20,25,30,35],"labelExpr":"datum.value % 10 == 0 ? datum.label : ''","titlePadding":0}},"color":{"field":"genotype","type":"nominal","scale":{"domain":["Control","Fmr1"],"range":["#000000","#6e6e6e"]},"legend":null}}},
      {"mark":{"type":"rule","color":"#000","strokeWidth":1},"encoding":{"y":{"field":"lo","type":"quantitative"},"y2":{"field":"hi"}}},
      {"mark":{"type":"tick","color":"#000","thickness":1,"size":6},"encoding":{"y":{"field":"hi","type":"quantitative"}}},
      {"mark":{"type":"tick","color":"#000","thickness":1,"size":6},"encoding":{"y":{"field":"lo","type":"quantitative"}}}
     ]}
 ]
}
],
"spacing":-29,"resolve":{"scale":{"color":"independent"}}
}
